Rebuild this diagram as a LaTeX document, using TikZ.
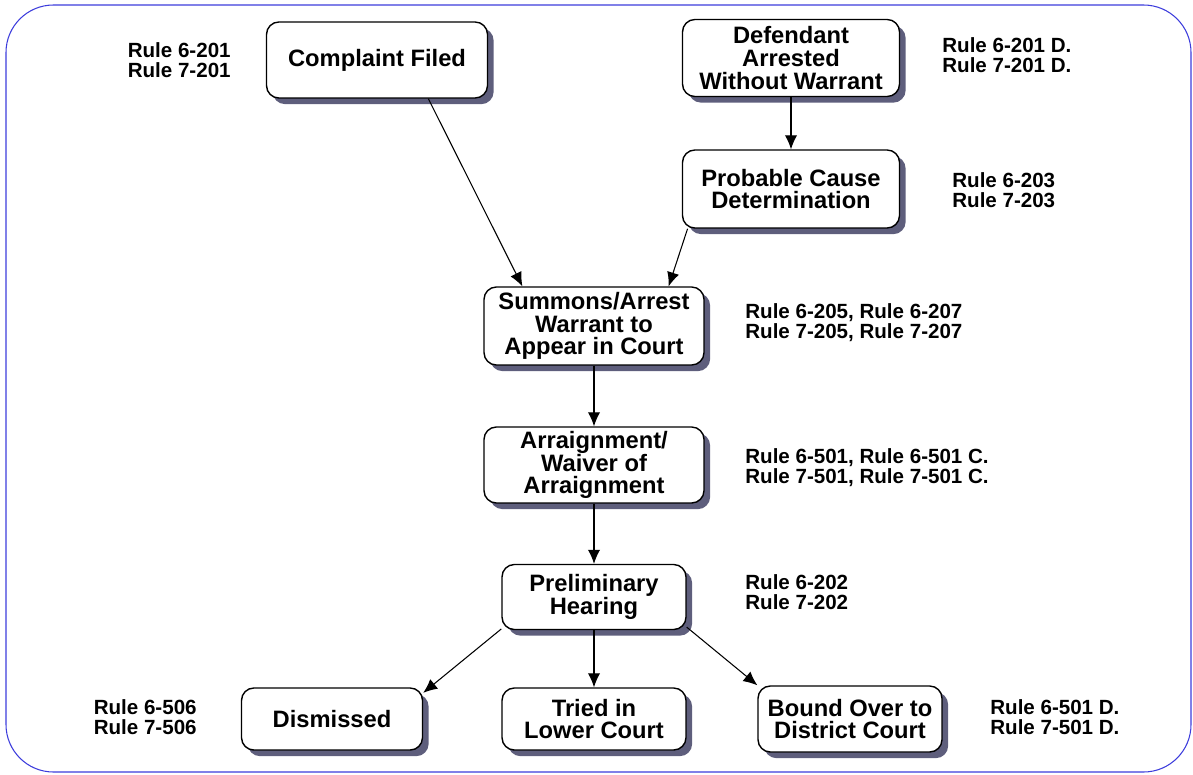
\documentclass[tikz,border=0pt]{standalone}
\usepackage{fontspec}
\setmainfont{Liberation Sans}
\usetikzlibrary{shadows,arrows.meta}
\definecolor{framecol}{RGB}{60,60,220}
\definecolor{shadecol}{RGB}{40,40,80}
\begin{document}
\begin{tikzpicture}
    [
    x=0.02cm,y=-0.02cm,
    stage/.style={rectangle,draw,thick,rounded corners=7pt,fill=white,align=center,inner sep=0pt,
      font=\fontsize{13.5}{13}\selectfont\bfseries,
      drop shadow={shadow xshift=3.5pt,shadow yshift=-3.5pt,fill=shadecol,opacity=0.75}},
    rule/.style={inner sep=0pt,align=left,font=\fontsize{11.7}{11.3}\selectfont\bfseries},
    link/.style={line width=0.6pt,-{Latex[length=8pt,width=7pt]}}
    ]
    \useasboundingbox (0,0) rectangle (1193,774);
    \draw [framecol,line width=0.6pt,rounded corners=0.95cm] (6,5) rectangle (1191,772);
    % stages
    \node (cf) at (377,60) [stage,minimum width=4.42cm,minimum height=1.52cm] {Complaint Filed};
    \node (da) at (791,58) [stage,minimum width=4.34cm,minimum height=1.54cm] {Defendant\\Arrested\\Without Warrant};
    \node (pc) at (791,189) [stage,minimum width=4.34cm,minimum height=1.56cm] {Probable Cause\\Determination};
    \node (sw) at (594,326) [stage,minimum width=4.4cm,minimum height=1.56cm] {Summons/Arrest\\Warrant to\\Appear in Court};
    \node (ar) at (594,465) [stage,minimum width=4.4cm,minimum height=1.52cm] {Arraignment/\\Waiver of\\Arraignment};
    \node (ph) at (594,597) [stage,minimum width=3.68cm,minimum height=1.3cm] {Preliminary\\Hearing};
    \node (di) at (332,719) [stage,minimum width=3.62cm,minimum height=1.24cm] {Dismissed};
    \node (tl) at (594,719) [stage,minimum width=3.68cm,minimum height=1.24cm] {Tried in\\Lower Court};
    \node (bo) at (850,719) [stage,minimum width=3.68cm,minimum height=1.32cm] {Bound Over to\\District Court};
    % rules
    \node (rcf) at (231,60) [rule,anchor=east] {Rule 6-201\\Rule 7-201};
    \node (rda) at (942,55) [rule,anchor=west] {Rule 6-201 D.\\Rule 7-201 D.};
    \node (rpc) at (952,190) [rule,anchor=west] {Rule 6-203\\Rule 7-203};
    \node (rsw) at (745,323) [rule,anchor=west] {Rule 6-205, Rule 6-207\\Rule 7-205, Rule 7-207};
    \node (rar) at (745,468) [rule,anchor=west] {Rule 6-501, Rule 6-501 C.\\Rule 7-501, Rule 7-501 C.};
    \node (rph) at (745,592) [rule,anchor=west] {Rule 6-202\\Rule 7-202};
    \node (rdi) at (197,717) [rule,anchor=east] {Rule 6-506\\Rule 7-506};
    \node (rbo) at (990,717) [rule,anchor=west] {Rule 6-501 D.\\Rule 7-501 D.};
    % links
    \draw [link] (cf.-37) to (sw.151);
    \draw [link] (da) to (pc);
    \draw [link] (pc.-159) to (sw.28);
    \draw [link] (sw) to (ar);
    \draw [link] (ar) to (ph);
    \draw [link] (ph.-161) to (di.16);
    \draw [link] (ph) to (tl);
    \draw [link] (ph.-18) to (bo.160);
\end{tikzpicture}
\end{document}
